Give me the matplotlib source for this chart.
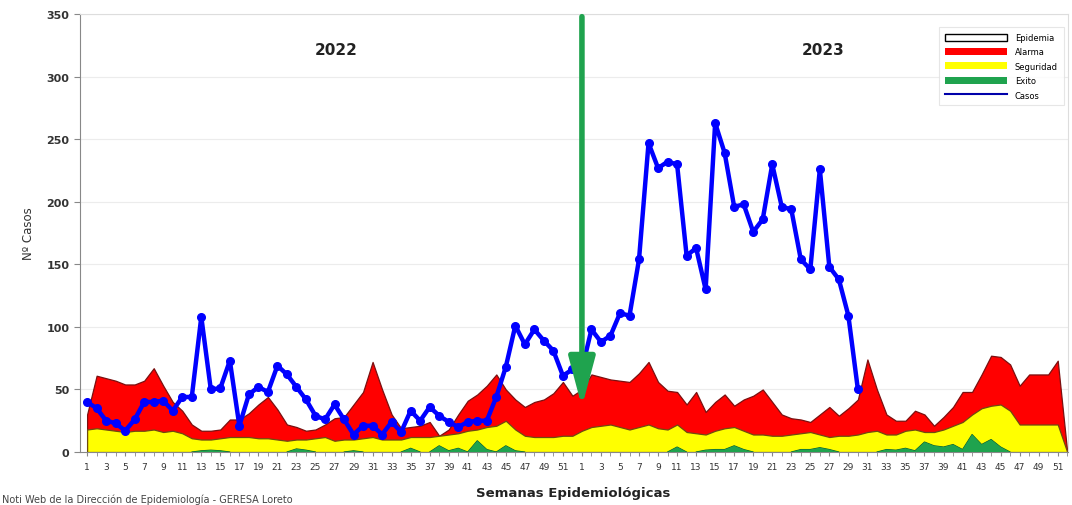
import numpy as np
import matplotlib
matplotlib.use('Agg')
import matplotlib.pyplot as plt

# semanas epidemiologicas 2022 + 2023 (52 + 52)
weeks_2022 = list(range(1, 53))
weeks_2023 = list(range(1, 53))

casos_2022 = [40, 35, 25, 23, 17, 26, 40, 40, 41, 33, 44, 44, 108, 50, 51, 73, 21, 46, 52, 48,
              69, 62, 52, 42, 29, 26, 38, 26, 14, 21, 21, 14, 24, 16, 33, 25, 36, 29, 24, 20,
              24, 25, 25, 44, 68, 101, 86, 98, 89, 81, 61, 66]
casos_2023 = [66, 98, 88, 93, 111, 109, 154, 247, 227, 232, 230, 157, 163, 130, 263, 239, 196, 198, 176, 186,
              230, 196, 194, 154, 146, 226, 148, 138, 109, 50]

alarma_2022 = [30, 61, 59, 57, 54, 54, 57, 67, 53, 40, 33, 22, 17, 17, 18, 26, 26, 31, 38, 44,
               34, 22, 20, 17, 18, 22, 27, 28, 38, 48, 72, 50, 30, 19, 20, 21, 24, 13, 18, 30,
               41, 46, 53, 62, 50, 42, 36, 40, 42, 47, 56, 45]
alarma_2023 = [50, 62, 60, 58, 57, 56, 63, 72, 56, 49, 48, 38, 48, 32, 40, 46, 37, 42, 45, 50,
               40, 30, 27, 26, 24, 30, 36, 29, 35, 42, 74, 50, 30, 25, 25, 33, 30, 21, 28, 36,
               48, 48, 62, 77, 76, 70, 53, 62, 62, 62, 73, 0]

seguridad_2022 = [18, 19, 18, 17, 16, 17, 17, 18, 16, 17, 15, 11, 10, 10, 11, 12, 12, 12, 11, 11,
                  10, 9, 10, 10, 11, 12, 9, 10, 10, 11, 12, 10, 10, 10, 12, 12, 12, 13, 14, 15,
                  17, 18, 20, 21, 25, 18, 13, 12, 12, 12, 13, 13]
seguridad_2023 = [17, 20, 21, 22, 20, 18, 20, 22, 19, 18, 22, 16, 15, 14, 17, 19, 20, 17, 14, 14,
                  13, 13, 14, 15, 16, 14, 12, 13, 13, 14, 16, 17, 14, 14, 17, 18, 16, 16, 18, 21,
                  24, 30, 35, 37, 38, 33, 22, 22, 22, 22, 22, 0]

exito_2022 = [0, 0, 0, 0, 0, 0, 0, 0, 0, 0, 0, 0, 1, 1.5, 1, 0, 0, 0, 0, 0,
              0, 0, 2.5, 1.5, 0, 0, 0, 0, 1, 0, 0, 0, 0, 0, 3, 0, 0, 5, 1, 3,
              0, 9, 2, 0, 5, 1, 0, 0, 0, 0, 0, 0]
exito_2023 = [0, 0, 0, 0, 0, 0, 0, 0, 0, 0, 4, 0, 0, 1.5, 2, 2, 5, 2, 0, 0,
              0, 0, 0, 2, 2, 3.5, 2, 0, 0, 0, 0, 0, 2, 1.5, 3, 1, 8, 5, 4, 6,
              2, 14, 6, 10, 4, 0, 0, 0, 0, 0, 0, 0]

RED = '#FF0000'
YELLOW = '#FFFF00'
GREEN = '#1FA34E'
BLUE = '#0000FF'

alarma = np.array(alarma_2022 + alarma_2023, dtype=float)
seguridad = np.array(seguridad_2022 + seguridad_2023, dtype=float)
exito = np.array(exito_2022 + exito_2023, dtype=float)
casos = np.array(casos_2022 + casos_2023, dtype=float)
x = np.arange(len(alarma))
x_casos = np.arange(len(casos))

fig = plt.figure(figsize=(10.72, 5.06), dpi=100)
ax = fig.add_axes([0.0746, 0.1047, 0.9214, 0.8653])

for y in range(50, 351, 50):
    ax.axhline(y, color='#ECECEC', lw=0.8, zorder=0)

ax.fill_between(x, 0, alarma, color=RED, edgecolor='#7A1010', lw=0.9, zorder=1)
ax.fill_between(x, 0, seguridad, color=YELLOW, edgecolor='#6E4A10', lw=0.9, zorder=2)
ax.fill_between(x, 0, exito, where=exito > 0, interpolate=True,
                color=GREEN, edgecolor='#0E5A2A', lw=0.8, zorder=3)
ax.fill_between(x, 0, exito, color=GREEN, edgecolor='none', lw=0, zorder=3)

ax.plot(x_casos, casos, color=BLUE, lw=3.2, marker='o', ms=5.5, zorder=5)

# separacion 2022 / 2023
ax.annotate('', xy=(52, 36), xytext=(52, 348),
            arrowprops=dict(arrowstyle='-|>,head_width=0.4,head_length=1.5',
                            color=GREEN, lw=4, mutation_scale=20, shrinkA=0, shrinkB=0),
            zorder=6)

ax.text(26.2, 322, '2022', ha='center', va='center', fontsize=11, fontweight='bold', color='#222222')
ax.text(77.3, 322, '2023', ha='center', va='center', fontsize=11, fontweight='bold', color='#222222')

ax.set_xlim(-0.75, 103.05)
ax.set_ylim(0, 350)
ax.set_yticks(range(0, 351, 50))
tick_pos = list(range(0, 52, 2)) + list(range(52, 104, 2))
tick_lab = [str(w) for w in weeks_2022[::2]] + [str(w) for w in weeks_2023[::2]]
ax.set_xticks(tick_pos)
ax.set_xticklabels(tick_lab)
ax.set_xticks(x, minor=True)
ax.tick_params(axis='x', which='both', length=3, color='#888888', labelsize=6.5,
               labelcolor='#333333', pad=4)
ax.tick_params(axis='y', length=4, color='#888888', labelsize=8, labelcolor='#333333')
for lab in ax.get_yticklabels():
    lab.set_fontweight('bold')

for side in ['top', 'right']:
    ax.spines[side].set_color('#DDDDDD')
    ax.spines[side].set_linewidth(0.8)
ax.spines['left'].set_color('#888888')
ax.spines['bottom'].set_color('#888888')

ax.set_ylabel('Nº Casos', fontsize=8.5, color='#333333', labelpad=8)
fig.text(0.535, 0.025, 'Semanas Epidemiológicas', ha='center', va='center',
         fontsize=9.5, fontweight='bold', color='#222222')
fig.text(0.002, 0.001, 'Noti Web de la Dirección de Epidemiología - GERESA Loreto',
         ha='left', va='bottom', fontsize=7, color='#444444')

handles = [
    plt.Rectangle((0, 0), 1, 1, facecolor='white', edgecolor='black', lw=1),
    plt.Rectangle((0, 0), 1, 1, facecolor=RED, edgecolor='none'),
    plt.Rectangle((0, 0), 1, 1, facecolor=YELLOW, edgecolor='none'),
    plt.Rectangle((0, 0), 1, 1, facecolor=GREEN, edgecolor='none'),
    plt.Line2D([0], [0], color='#0000AA', lw=1.5),
]
labels = ['Epidemia', 'Alarma', 'Seguridad', 'Exito', 'Casos']
leg = ax.legend(handles, labels, loc='upper right', bbox_to_anchor=(1.0, 0.98),
                fontsize=6, frameon=True, fancybox=False, handlelength=7.5, handleheight=0.9,
                labelspacing=0.65, borderpad=0.7, handletextpad=0.9)
leg.get_frame().set_edgecolor('#E0E0E0')
leg.get_frame().set_linewidth(0.8)

fig.savefig('out.png', dpi=100)
